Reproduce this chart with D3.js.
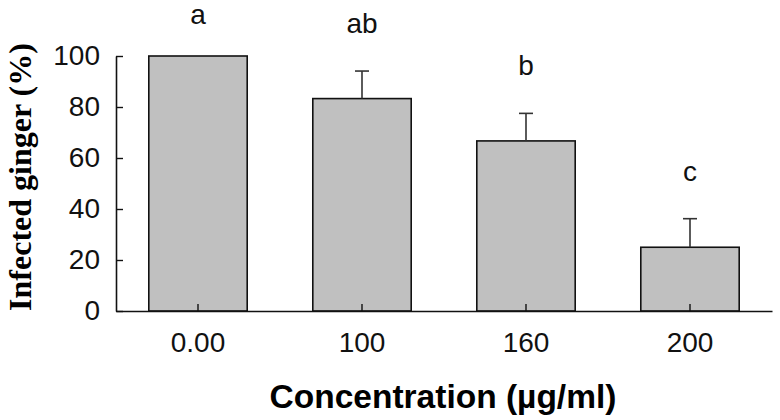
<!DOCTYPE html>
<html>
<head>
<meta charset="utf-8">
<script src="https://cdn.jsdelivr.net/npm/d3@7"></script>
<style>
  html, body { margin: 0; padding: 0; background: #fff; }
  svg { display: block; }
</style>
</head>
<body>
<svg id="chart" width="780" height="420"></svg>
<script>
const categories = ["0.00", "100", "160", "200"];
const values = [100, 83.3, 66.7, 25];
const errors = [0, 10.8, 10.8, 11.2];
const letters = ["a", "ab", "b", "c"];
const yTicks = [0, 20, 40, 60, 80, 100];

const svg = d3.select("#chart");
const margin = { left: 116, right: 8, top: 56, bottom: 109 };
const W = 780, H = 420;

const x = d3.scaleBand().domain(categories)
  .range([margin.left, W - margin.right])
  .paddingInner(0.4).paddingOuter(0.2);
const y = d3.scaleLinear().domain([0, 100]).range([H - margin.bottom, margin.top]);

// bars
svg.append("g").selectAll("rect").data(values).join("rect")
  .attr("x", (d, i) => x(categories[i]))
  .attr("y", d => y(d))
  .attr("width", x.bandwidth())
  .attr("height", d => y(0) - y(d))
  .attr("fill", "#c0c0c0")
  .attr("stroke", "#111")
  .attr("stroke-width", 1.6);

// error bars (upper only)
const eb = svg.append("g").attr("stroke", "#333").attr("stroke-width", 1.6);
values.forEach((v, i) => {
  if (errors[i] <= 0) return;
  const cx = x(categories[i]) + x.bandwidth() / 2;
  eb.append("line").attr("x1", cx).attr("x2", cx).attr("y1", y(v)).attr("y2", y(v + errors[i]));
  eb.append("line").attr("x1", cx - 7).attr("x2", cx + 7).attr("y1", y(v + errors[i])).attr("y2", y(v + errors[i]));
});

// significance letters
svg.append("g").selectAll("text").data(letters).join("text")
  .attr("x", (d, i) => x(categories[i]) + x.bandwidth() / 2)
  .attr("y", (d, i) => y(values[i] + errors[i]) - (errors[i] > 0 ? 38 : 32))
  .attr("text-anchor", "middle")
  .attr("font-family", "'Liberation Sans', Arial, sans-serif")
  .attr("font-size", 28)
  .attr("fill", "#111")
  .text(d => d);

// y axis
const yAxis = svg.append("g").attr("transform", `translate(${margin.left},0)`)
  .call(d3.axisLeft(y).tickValues(yTicks).tickSizeInner(-7).tickSizeOuter(0).tickPadding(16));
// x axis
const xAxis = svg.append("g").attr("transform", `translate(0,${y(0)})`)
  .call(d3.axisBottom(x).tickSizeInner(-7).tickSizeOuter(0).tickPadding(21));

[yAxis, xAxis].forEach(g => {
  g.select(".domain").attr("stroke", "#111").attr("stroke-width", 1.6);
  g.selectAll(".tick line").attr("stroke", "#111").attr("stroke-width", 1.4);
  g.selectAll(".tick text")
    .attr("font-family", "'Liberation Sans', Arial, sans-serif")
    .attr("font-size", 28)
    .attr("fill", "#111");
});

// axis titles
svg.append("text")
  .attr("x", 443).attr("y", 408)
  .attr("text-anchor", "middle")
  .attr("font-family", "'Liberation Sans', Arial, sans-serif")
  .attr("font-weight", "bold")
  .attr("font-size", 33.5)
  .attr("fill", "#000")
  .text("Concentration (µg/ml)");

svg.append("text")
  .attr("transform", "translate(31,177) rotate(-90)")
  .attr("text-anchor", "middle")
  .attr("font-family", "'Liberation Serif', 'Times New Roman', serif")
  .attr("font-weight", "bold")
  .attr("font-size", 32)
  .attr("fill", "#000")
  .text("Infected ginger (%)");
</script>
</body>
</html>
